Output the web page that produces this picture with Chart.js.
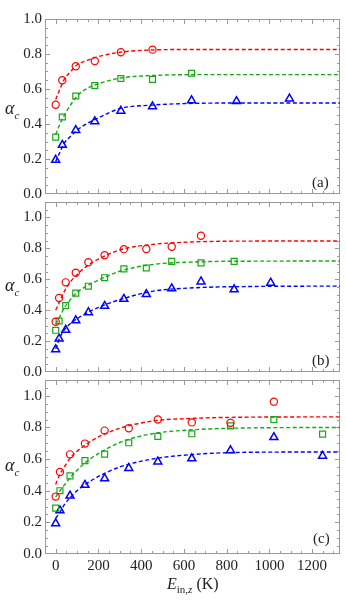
<!DOCTYPE html>
<html>
<head>
<meta charset="utf-8">
<script src="https://cdn.jsdelivr.net/npm/chart.js@4.4.1/dist/chart.umd.min.js"></script>
<style>
  body { margin: 0; background: #fff; }
  #wrap { position: relative; width: 346px; height: 606px; overflow: hidden; font-family: 'Liberation Serif', serif; color: #222; }
  canvas { position: absolute; left: 0; }
  .tag { position: absolute; font-size: 15px; line-height: 15px; }
  .ylab { position: absolute; left: 5px; font-size: 18px; line-height: 18px; font-style: italic; }
  .ylab sub { font-size: 11px; }
  .xlab { position: absolute; font-size: 16px; line-height: 16px; }
  .xlab sub { font-size: 11px; }
</style>
</head>
<body>
<div id="wrap">
  <canvas id="panelA" width="346" height="206" style="top:0px"></canvas>
  <canvas id="panelB" width="346" height="194" style="top:190px"></canvas>
  <canvas id="panelC" width="346" height="238" style="top:368px"></canvas>

  <span class="ylab" style="top:99px">α<sub>c</sub></span>
  <span class="ylab" style="top:276px">α<sub>c</sub></span>
  <span class="ylab" style="top:456px">α<sub>c</sub></span>

  <span class="tag" style="left:312px; top:175px">(a)</span>
  <span class="tag" style="left:312px; top:353px">(b)</span>
  <span class="tag" style="left:313px; top:531px">(c)</span>

  <span class="xlab" style="left:167px; top:576px"><i>E</i><sub>in,<i>z</i></sub> (K)</span>
</div>

<script>
// Tick labels
const xTicks = [0, 200, 400, 600, 800, 1000, 1200];
const yTicks = [0, 0.2, 0.4, 0.6, 0.8, 1.0];

// Panel (a) measurements
const aRedX = [0, 31, 94, 183, 305, 453];
const aRed = [0.51, 0.65, 0.73, 0.76, 0.81, 0.825];
const aGreenX = [0, 31, 94, 183, 305, 453, 636];
const aGreen = [0.325, 0.44, 0.56, 0.62, 0.66, 0.655, 0.69];
const aBlueX = [0, 31, 94, 183, 305, 453, 636, 846, 1094];
const aBlue = [0.195, 0.28, 0.365, 0.415, 0.475, 0.50, 0.535, 0.53, 0.545];

// Panel (b) measurements
const bX = [0, 16, 47, 94, 153, 229, 319, 424, 543, 680, 835, 1006];
const bRed = [0.325, 0.479, 0.58, 0.642, 0.71, 0.755, 0.795, 0.796, 0.81, 0.882];
const bGreen = [0.27, 0.33, 0.43, 0.51, 0.555, 0.61, 0.667, 0.673, 0.716, 0.706, 0.716];
const bBlue = [0.146, 0.215, 0.272, 0.334, 0.386, 0.427, 0.472, 0.503, 0.54, 0.585, 0.534, 0.577];

// Panel (c) measurements
const cX = [0, 20, 67, 137, 229, 342, 478, 637, 818, 1021, 1249];
const cRed = [0.363, 0.518, 0.63, 0.698, 0.78, 0.795, 0.85, 0.832, 0.83, 0.963];
const cGreen = [0.29, 0.40, 0.494, 0.59, 0.631, 0.703, 0.744, 0.76, 0.81, 0.85, 0.758];
const cBlue = [0.193, 0.275, 0.368, 0.436, 0.477, 0.543, 0.584, 0.604, 0.655, 0.738, 0.62];

// Fitted curves
const fitX = [0, 20, 40, 70, 100, 150, 200, 300, 450, 650, 900, 1330];
const aRedFit = [0.54, 0.60, 0.655, 0.70, 0.737, 0.765, 0.785, 0.81, 0.823, 0.826, 0.826, 0.826];
const aGreenFit = [0.34, 0.40, 0.45, 0.51, 0.56, 0.605, 0.63, 0.662, 0.677, 0.682, 0.682, 0.682];
const aBlueFit = [0.185, 0.24, 0.29, 0.33, 0.365, 0.405, 0.435, 0.488, 0.508, 0.518, 0.52, 0.52];
const bRedFit = [0.40, 0.46, 0.52, 0.585, 0.63, 0.69, 0.73, 0.79, 0.825, 0.842, 0.847, 0.848];
const bGreenFit = [0.31, 0.36, 0.415, 0.47, 0.515, 0.56, 0.595, 0.652, 0.695, 0.712, 0.717, 0.718];
const bBlueFit = [0.15, 0.225, 0.272, 0.315, 0.345, 0.385, 0.418, 0.468, 0.522, 0.545, 0.553, 0.556];
const cRedFit = [0.44, 0.505, 0.55, 0.61, 0.65, 0.70, 0.74, 0.795, 0.84, 0.858, 0.865, 0.867];
const cGreenFit = [0.36, 0.40, 0.435, 0.487, 0.53, 0.59, 0.635, 0.705, 0.76, 0.786, 0.797, 0.80];
const cBlueFit = [0.225, 0.265, 0.31, 0.36, 0.40, 0.45, 0.49, 0.55, 0.60, 0.63, 0.643, 0.645];

// Colors
const red = 'rgb(255,0,0)';
const green = 'rgb(20,170,20)';
const blue = 'rgb(0,0,255)';
const frameColor = '#9a9a9a';
const fontFamily = 'Liberation Serif';

// Plugin: Mathematica-like frame with inward ticks on every side
const framePlugin = {
    id: 'frame',
    beforeDatasetsDraw(chart) {
        const {ctx, chartArea, scales} = chart;
        const l = Math.round(chartArea.left) + 0.5;
        const r = Math.round(chartArea.right) - 0.5;
        const t = Math.round(chartArea.top) + 0.5;
        const b = Math.round(chartArea.bottom) - 0.5;

        ctx.save();
        ctx.strokeStyle = frameColor;
        ctx.lineWidth = 1;
        ctx.strokeRect(l, t, r - l, b - t);

        ctx.beginPath();
        // x ticks (top and bottom)
        for (let v = -50; v <= scales.x.max; v += 50) {
            const px = Math.round(scales.x.getPixelForValue(v)) + 0.5;
            if (px <= l || px >= r) continue;
            const len = xTicks.includes(v) ? 4.5 : 2.5;
            ctx.moveTo(px, b); ctx.lineTo(px, b - len);
            ctx.moveTo(px, t); ctx.lineTo(px, t + len);
        }
        // y ticks (left and right)
        for (let i = 0; i * 0.05 <= scales.y.max + 1e-9; i++) {
            const v = i * 0.05;
            const py = Math.round(scales.y.getPixelForValue(v)) + 0.5;
            if (py <= t || py >= b) continue;
            const len = (i % 4 === 0) ? 4.5 : 2.5;
            ctx.moveTo(l, py); ctx.lineTo(l + len, py);
            ctx.moveTo(r, py); ctx.lineTo(r - len, py);
        }
        ctx.stroke();
        ctx.restore();
    }
};

// Build the datasets for one panel
const makeDatasets = (series) => {
    let datasets = [];

    // Markers first so they are drawn on top
    for (let s of series) {
        datasets.push({
            type: 'scatter',
            data: s.x.map((x, i) => ({x: x, y: s.y[i]})).filter(p => p.y !== undefined),
            pointStyle: s.style,
            pointRadius: s.radius,
            pointBorderColor: s.color,
            pointBackgroundColor: 'rgba(0,0,0,0)',
            pointBorderWidth: s.width,
            showLine: false
        });
    }

    // Dashed fit curves
    for (let s of series) {
        datasets.push({
            type: 'line',
            data: fitX.map((x, i) => ({x: x, y: s.fit[i]})),
            borderColor: s.color,
            borderWidth: 1.4,
            borderDash: [4, 2.5],
            pointRadius: 0,
            cubicInterpolationMode: 'monotone',
            fill: false
        });
    }
    return datasets;
}

const createPanel = (canvasId, yMax, series, showX, padding) => {
    const ctx = document.getElementById(canvasId).getContext('2d');

    return new Chart(ctx, {
        type: 'scatter',
        data: { datasets: makeDatasets(series) },
        options: {
            responsive: false,
            animation: false,
            events: [],
            layout: { padding: padding },
            plugins: {
                legend: { display: false },
                tooltip: { enabled: false }
            },
            scales: {
                x: {
                    type: 'linear',
                    display: showX,
                    min: -50,
                    max: 1330,
                    afterBuildTicks: (scale) => { scale.ticks = xTicks.map(v => ({value: v})); },
                    afterFit: (scale) => { scale.height = showX ? 22 : 0; },
                    grid: { display: false, drawTicks: false },
                    border: { display: false },
                    ticks: {
                        autoSkip: false,
                        maxRotation: 0,
                        padding: 3,
                        color: '#222',
                        font: { family: fontFamily, size: 15 },
                        callback: (v) => String(v)
                    }
                },
                y: {
                    type: 'linear',
                    min: 0,
                    max: yMax,
                    afterBuildTicks: (scale) => { scale.ticks = yTicks.map(v => ({value: v})); },
                    afterFit: (scale) => { scale.width = 45; },
                    grid: { display: false, drawTicks: false },
                    border: { display: false },
                    ticks: {
                        padding: 3,
                        color: '#222',
                        font: { family: fontFamily, size: 15 },
                        callback: (v) => v.toFixed(1)
                    }
                }
            }
        },
        plugins: [framePlugin]
    });
}

const circle = { style: 'circle', radius: 3.6, width: 1.2, color: red };
const square = { style: 'rect', radius: 4.2, width: 1.2, color: green };
const triangle = { style: 'triangle', radius: 4.6, width: 1.5, color: blue };

createPanel('panelA', 1.0, [
    {...circle, x: aRedX, y: aRed, fit: aRedFit},
    {...square, x: aGreenX, y: aGreen, fit: aGreenFit},
    {...triangle, x: aBlueX, y: aBlue, fit: aBlueFit}
], false, {top: 19, bottom: 8, left: 0, right: 3});

createPanel('panelB', 1.1, [
    {...circle, x: bX, y: bRed, fit: bRedFit},
    {...square, x: bX, y: bGreen, fit: bGreenFit},
    {...triangle, x: bX, y: bBlue, fit: bBlueFit}
], false, {top: 8, bottom: 8, left: 0, right: 3});

createPanel('panelC', 1.1, [
    {...circle, x: cX, y: cRed, fit: cRedFit},
    {...square, x: cX, y: cGreen, fit: cGreenFit},
    {...triangle, x: cX, y: cBlue, fit: cBlueFit}
], true, {top: 8, bottom: 30, left: 0, right: 3});
</script>
</body>
</html>
